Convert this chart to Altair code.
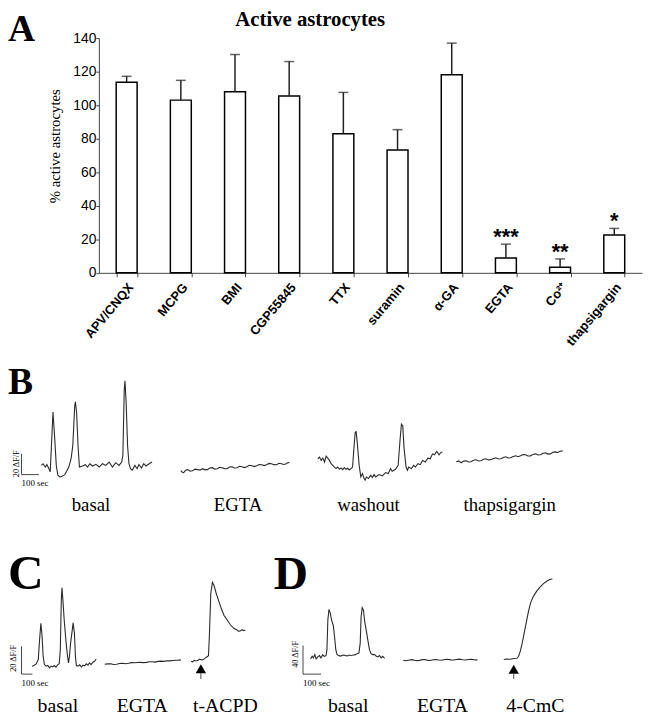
import altair as alt
import pandas as pd

SERIF = "Liberation Serif"
SANS = "Liberation Sans"
INK = "#2a2a2a"

# ---------------- Panel A: active astrocytes ----------------
categories = ["APV/CNQX", "MCPG", "BMI", "CGP55845", "TTX", "suramin",
              "α-GA", "EGTA", "Co²⁺", "thapsigargin"]
active_pct = [113.7, 103.0, 108.0, 105.4, 83.0, 73.3, 118.2, 8.8, 3.4, 22.6]
error_pct = [3.5, 11.8, 22.2, 20.6, 24.6, 12.1, 18.8, 8.3, 4.9, 3.9]
significance = ["", "", "", "", "", "", "", "***", "**", "*"]
y_ticks = [0, 20, 40, 60, 80, 100, 120, 140]

# ---------------- Traces: (time in s, ΔF/F in %) ----------------
B_BASAL = [(0, 0.3), (10, 1.9), (23, -1.3), (32, 1.0), (44, -2.9), (51, -6.0), (67, 51.7), (76, 28.9),
           (86, 0.3), (95, -9.2), (108, -11.1), (124, -9.8), (135, -8.6), (143, -6.0), (158, -1.3),
           (171, 6.7), (181, 19.4), (192, 57.5), (196, 61.6), (203, 51.1), (211, 19.4), (219, -1.3),
           (238, -0.3), (253, 1.0), (266, -1.3), (279, 1.9), (295, -0.3), (314, 1.3), (333, -1.3),
           (352, 1.9), (371, 0.3), (390, 3.5), (409, -1.3), (428, 2.9), (447, 0.3), (462, 3.5),
           (469, 9.8), (477, 73.3), (481, 81.9), (488, 60.6), (496, 19.4), (504, 1.9), (513, -2.9),
           (523, -4.4), (538, 0.3), (551, -2.9), (561, 1.0), (576, -2.2), (589, 1.9), (602, -0.3),
           (618, 1.6), (637, 3.5)]
B_EGTA = [(0, 0), (9, -1.5), (17, -1.9), (28, 0.5), (40, 1.0), (54, -0.5), (68, 0), (82, 1.5), (97, 1.0),
          (111, 0.5), (125, 1.9), (139, 0.8), (153, 1.0), (168, 2.5), (182, 2.9), (196, 1.5), (210, 1.9),
          (224, 3.2), (238, 2.9), (252, 2.0), (267, 1.9), (281, 3.5), (295, 3.8), (310, 2.6), (324, 2.9),
          (338, 4.2), (352, 3.8), (366, 3.0), (380, 3.8), (395, 5.2), (409, 4.8), (423, 3.9), (437, 4.8),
          (452, 6.0), (466, 5.7), (480, 4.9), (494, 5.7), (508, 7.0), (522, 6.7), (537, 5.8), (551, 5.7),
          (565, 7.2), (579, 6.7), (593, 6.0), (607, 6.7), (617, 7.8), (625, 7.6)]
B_WASHOUT = [(0, 14.3), (9.5, 15.9), (19, 12.7), (28.5, 14.9), (38, 11.1), (47.5, 16.8), (57, 14.9),
             (66.5, 12.7), (76, 9.5), (85.5, 7.9), (95, 6.3), (104.5, 4.8), (114, 6.3), (123.5, 4.1),
             (133, 5.4), (142.5, 3.8), (152, 5.7), (161.5, 4.1), (171, 5.1), (180.5, 3.5), (190, 4.8),
             (199.5, 6.3), (207, 23.8), (214.7, 39.7), (220.4, 40.3), (228, 27.0), (237.5, 7.9),
             (247, -3.2), (256.5, 0), (266, -4.8), (271.7, -6.3), (279.3, -3.2), (290.7, -4.8),
             (304, -1.6), (313.5, -3.8), (323, -1.0), (332.5, -3.2), (351.5, -1.0), (370.5, -2.2),
             (389.5, 1.0), (404.7, 0), (418, 4.8), (427.5, 2.2), (446.5, 4.1), (461.7, 7.9), (473, 33.3),
             (480.7, 47.6), (488.3, 46.0), (496, 23.8), (507.3, 6.3), (515, 3.2), (522.5, 6.3),
             (537.7, 4.8), (551, 7.9), (560.5, 6.3), (575.7, 9.5), (589, 8.6), (602.3, 12.7),
             (617.5, 11.1), (632.7, 14.9), (646, 14.3), (659.3, 19.0), (670.7, 18.1), (684, 21.3),
             (697.3, 18.1), (708.7, 20.6), (716.3, 20.6)]
B_THAPS = [(0, 0), (14, 0.8), (28, -1.0), (43, 0.6), (57, 1.0), (71, -0.2), (85, 0), (100, 1.5), (114, 1.9),
           (128, 0.8), (142, 1.0), (157, 2.4), (171, 2.9), (185, 1.8), (199, 1.9), (214, 3.2), (228, 3.8),
           (242, 2.6), (256, 2.9), (271, 4.2), (285, 4.8), (299, 3.6), (313, 3.8), (328, 5.0), (342, 5.7),
           (356, 4.9), (370, 5.7), (385, 6.9), (399, 6.7), (413, 5.6), (427, 5.7), (442, 7.1), (456, 7.6),
           (470, 6.5), (484, 6.7), (499, 8.2), (513, 8.6), (527, 7.4), (541, 7.6), (556, 9.1), (570, 9.5),
           (584, 9.0), (598, 10.2), (612, 10.5)]

C_BASAL = [(0, 0), (18, 0.5), (39, 1.7), (58, 4.8), (70, 19.0), (82, 31.0), (91, 23.8), (103, 7.1),
           (115, 1.2), (130, 0), (145, 0.5), (161, -1.2), (176, 0), (191, -0.5), (206, 0.5), (221, -0.7),
           (236, 1.0), (251, 1.9), (261, 11.9), (270, 47.6), (276, 56.7), (285, 47.6), (297, 33.3),
           (312, 19.0), (324, 9.5), (336, 2.4), (345, 7.1), (355, 16.2), (367, 23.8), (379, 31.4),
           (391, 23.8), (400, 7.1), (409, 0.5), (424, 0), (439, 1.0), (455, -0.5), (470, 0.7),
           (485, 0.2), (500, 1.7), (515, 0.7), (530, 2.4), (545, 1.2), (560, 2.9), (576, 3.6), (591, 5.2)]
C_EGTA = [(0, 0), (27, 0.3), (55, 0.4), (82, -0.2), (109, 0), (137, 0.6), (164, 0.7), (191, 0.4),
          (218, 0.7), (246, 1.2), (273, 1.1), (300, 1.3), (328, 1.4), (355, 1.2), (382, 1.4), (410, 1.8),
          (437, 1.8), (464, 1.6), (491, 2.1), (519, 2.3), (546, 2.1), (573, 2.5), (601, 2.5), (628, 2.7),
          (655, 2.9), (683, 3.0), (701, 3.2)]
C_TACPD = [(0, 0), (15, -0.5), (30, 0.7), (45, 0.2), (61, 0.5), (76, 1.4), (91, 1.2), (106, 0.9),
           (121, 1.7), (133, 2.4), (145, 3.1), (161, 4.0), (170, 20.2), (182, 48.8), (197, 57.1),
           (212, 54.8), (233, 48.8), (258, 42.9), (279, 38.1), (303, 33.3), (333, 29.8), (364, 26.2),
           (394, 23.8), (424, 22.6), (440, 21.6), (455, 22.1), (470, 22.8), (485, 22.1), (500, 22.6)]

D_BASAL = [(0, -4.6), (9, -0.9), (16, -3.2), (24, 1.4), (31, -4.6), (40, -1.8), (49, 0), (58, -3.2),
           (67, 1.4), (76, -0.9), (86, 0), (91, 8.3), (96, 49.7), (102, 64.4), (109, 59.8), (118, 48.3),
           (126, 42.5), (133, 26.4), (140, 8.3), (147, 1.4), (158, 0), (167, -0.6), (177, 0.5),
           (186, 0.9), (195, 0), (204, -0.4), (213, 0.9), (222, 0.2), (231, 0.5), (240, 1.0), (249, 1.4),
           (258, 2.8), (268, 3.7), (275, 17.5), (280, 54.3), (286, 67.1), (293, 63.4), (300, 47.4),
           (308, 35.9), (317, 22.1), (326, 8.3), (335, 2.8), (344, 1.4), (355, 1.4), (364, -0.9),
           (373, -1.8), (382, 0), (391, -3.2), (400, -0.9), (410, -3.7)]
D_EGTA = [(0, 0), (16, -0.6), (33, 0.5), (49, 0.9), (66, -0.3), (82, -0.5), (98, 0.6), (115, 1.0),
          (131, 0.2), (148, -0.2), (164, 0.8), (180, 1.2), (197, 0.4), (213, 0.1), (229, 1.1), (246, 1.5),
          (262, 0.6), (279, 0.3), (295, 1.2), (311, 1.6), (328, 0.8), (344, 0.4), (360, 1.0), (377, 1.4),
          (393, 0.7), (402, 0.2), (410, 1.1)]
D_CMC = [(0, 0), (18, 0.9), (36, 0.5), (55, 1.4), (73, 1.8), (82, 4.6), (91, 11.5), (100, 20.7),
         (109, 32.2), (118, 43.7), (127, 55.2), (136, 66.7), (146, 77.2), (155, 83.7), (164, 88.3),
         (182, 95.6), (200, 101.1), (218, 105.7), (237, 109.4), (255, 111.7), (269, 112.6)]

TRACES = {
    "B": {"basal": B_BASAL, "EGTA": B_EGTA, "washout": B_WASHOUT, "thapsigargin": B_THAPS},
    "C": {"basal": C_BASAL, "EGTA": C_EGTA, "t-ACPD": C_TACPD},
    "D": {"basal": D_BASAL, "EGTA": D_EGTA, "4-CmC": D_CMC},
}
SCALE_BAR_DFF = {"B": 20, "C": 20, "D": 40}
SCALE_BAR_SEC = 100
ARROW_TIME = {"C": ("t-ACPD", 91), "D": ("4-CmC", 55)}

# ---------------- layout (placement of each trace in its panel frame) ----------------
TRACE_OFFSET = {
    ("B", "basal"): (114, 8.6), ("B", "EGTA"): (916, 3.8),
    ("B", "washout"): (1705, 1.0), ("B", "thapsigargin"): (2501, 12.4),
    ("C", "basal"): (96, 5.7), ("C", "EGTA"): (766, 7.1), ("C", "t-ACPD"): (1560, 9.3),
    ("D", "basal"): (41.5, 25.8), ("D", "EGTA"): (555, 19.3), ("D", "4-CmC"): (1111, 20.3),
}
PANEL_FRAME = {  # x domain/range, y domain/range
    "B": ([0, 3500], [13.7, 629.7], [0, 100], [468, 363]),
    "C": ([0, 5000], [13.7, 563.7], [0, 100], [670, 530]),
    "D": ([0, 2000], [298.7, 664.7], [0, 100], [670, 597.5]),
}
ARROW_Y = {"C": (3.9, 0.7, -3.6), "D": (6.9, 0.0, -6.9)}

rows = []
for panel, traces in TRACES.items():
    for name, pts in traces.items():
        t0, v0 = TRACE_OFFSET[(panel, name)]
        for t, v in pts:
            rows.append({"panel": panel, "trace": name, "t": t + t0, "v": v + v0})
df_tr = pd.DataFrame(rows)

# ---------------- Panel A chart ----------------
dfA = pd.DataFrame({"cat": categories, "val": active_pct, "err": error_pct, "sig": significance})
dfA["top"] = dfA["val"] + dfA["err"]

xA = alt.X("cat:N", sort=categories, title=None,
           scale=alt.Scale(range=[92, 642], paddingInner=0.614, paddingOuter=0.32),
           axis=alt.Axis(orient="bottom", offset=-448.3, labelAngle=310, labelAlign="right",
                         labelBaseline="middle", labelFont=SANS, labelFontWeight="bold",
                         labelFontSize=13, labelColor="black", labelPadding=8, labelOffset=4,
                         tickBand="extent", tickSize=4, tickColor="#444", domainColor="#444",
                         labelOverlap=False))
yA = alt.Y("val:Q", title="% active astrocytes",
           scale=alt.Scale(domain=[0, 140], range=[263.7, 26], nice=False),
           axis=alt.Axis(orient="left", offset=-92, values=y_ticks, grid=False,
                         titleFont=SERIF, titleFontSize=15, titleFontWeight="normal",
                         titleColor="black", titleX=-45, titleY=135, titleBaseline="middle",
                         titleAlign="center", titleAngle=270,
                         labelFont=SANS, labelFontSize=14, labelColor="black", labelPadding=0,
                         tickSize=3, tickColor="#444", domainColor="#444"))
yTop = alt.Y("top:Q", scale=alt.Scale(domain=[0, 140], range=[263.7, 26], nice=False))

bars = alt.Chart(dfA).mark_bar(fill="white", stroke="black", strokeWidth=1.5).encode(x=xA, y=yA)
errs = alt.Chart(dfA).mark_rule(color="#222", strokeWidth=1.5).encode(x=xA, y=yA, y2="top:Q")
caps = alt.Chart(dfA).mark_tick(color="#222", size=10, thickness=1.5).encode(x=xA, y=yTop)
stars = alt.Chart(dfA).mark_text(font=SANS, fontSize=22, fontWeight="bold", color="black",
                                 baseline="alphabetic").encode(x=xA, y=yTop, text="sig:N")
panelA = alt.layer(bars, errs, caps, stars)


# ---------------- Trace panels ----------------
def panel_chart(panel):
    xd, xr, yd, yr = PANEL_FRAME[panel]
    xs = alt.Scale(domain=xd, range=xr, nice=False, zero=False)
    ys = alt.Scale(domain=yd, range=yr, nice=False, zero=False)
    line = alt.Chart(df_tr[df_tr["panel"] == panel]).mark_line(color=INK, strokeWidth=1.1).encode(
        x=alt.X("t:Q", scale=xs, axis=None), y=alt.Y("v:Q", scale=ys, axis=None),
        detail="trace:N")
    sb_df = pd.DataFrame({"x": [0, 0], "x2": [0, SCALE_BAR_SEC],
                          "y": [0, 0], "y2": [SCALE_BAR_DFF[panel], 0]})
    sb = alt.Chart(sb_df).mark_rule(color="#444", strokeWidth=1).encode(
        x=alt.X("x:Q", scale=xs, axis=None), x2="x2:Q",
        y=alt.Y("y:Q", scale=ys, axis=None), y2="y2:Q")
    layers = [line, sb]
    if panel in ARROW_TIME:
        trace, t_app = ARROW_TIME[panel]
        t0, _ = TRACE_OFFSET[(panel, trace)]
        tri_v, s1, s2 = ARROW_Y[panel]
        adf = pd.DataFrame({"t": [t0 + t_app], "v": [tri_v], "s1": [s1], "s2": [s2]})
        tri = alt.Chart(adf).mark_point(shape="triangle-up", filled=True, size=110,
                                        color="black", opacity=1).encode(
            x=alt.X("t:Q", scale=xs, axis=None), y=alt.Y("v:Q", scale=ys, axis=None))
        stem = alt.Chart(adf).mark_rule(color="#444", strokeWidth=1).encode(
            x=alt.X("t:Q", scale=xs, axis=None), y=alt.Y("s1:Q", scale=ys, axis=None), y2="s2:Q")
        layers += [tri, stem]
    return alt.layer(*layers)


def label(text, x, y, size, font=SERIF, weight="normal", align="center", angle=0,
          baseline="alphabetic"):
    return alt.Chart(pd.DataFrame({"s": [text]})).mark_text(
        font=font, fontSize=size, fontWeight=weight, align=align, baseline=baseline,
        angle=angle, color="black").encode(x=alt.value(x), y=alt.value(y), text="s:N")


texts = [
    label("A", 0, 29, 38, weight="bold", align="left"),
    label("Active astrocytes", 306, 14, 21, weight="bold"),
    label("B", 0, 386, 38, weight="bold", align="left"),
    label("C", 0, 584, 50, weight="bold", align="left"),
    label("D", 269, 584, 48, weight="bold", align="left"),
    # panel B
    label("20 ΔF/F", 7.7, 457, 8.5, angle=270, baseline="middle"),
    label("100 sec", 13.7, 479.5, 9, align="left"),
    label("basal", 84, 505, 19), label("EGTA", 233, 505, 19),
    label("washout", 365, 505, 19), label("thapsigargin", 508, 505, 19),
    # panel C
    label("20 ΔF/F", 5.3, 654, 8.5, angle=270, baseline="middle"),
    label("100 sec", 13.7, 682, 9, align="left"),
    label("basal", 50.5, 708.7, 20), label("EGTA", 136, 708.7, 20), label("t-ACPD", 220, 708.7, 20),
    # panel D
    label("40 ΔF/F", 290.3, 650, 8.5, angle=270, baseline="middle"),
    label("100 sec", 298.7, 682, 9, align="left"),
    label("basal", 344.5, 708.7, 20), label("EGTA", 440, 708.7, 20), label("4-CmC", 534, 708.7, 20),
]

chart = alt.layer(panelA, panel_chart("B"), panel_chart("C"), panel_chart("D"), *texts).resolve_scale(
    x="independent", y="independent"
).properties(
    width=646, height=712, padding=0, background="white",
    autosize=alt.AutoSizeParams(type="none"),
).configure_view(stroke=None)

chart.save("out.html", embed_options={"renderer": "svg", "actions": False})
